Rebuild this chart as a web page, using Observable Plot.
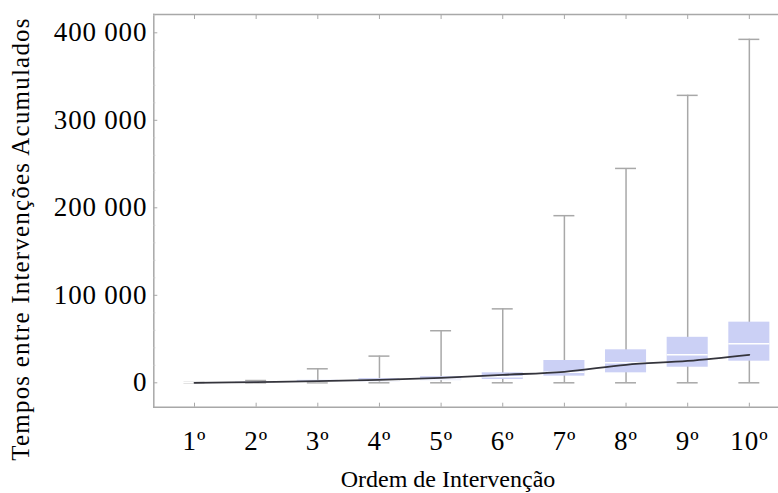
<!DOCTYPE html>
<html>
<head>
<meta charset="utf-8">
<script src="https://cdn.jsdelivr.net/npm/d3@7"></script>
<script src="https://cdn.jsdelivr.net/npm/@observablehq/plot@0.6"></script>
<style>
  body { margin: 0; background: #fff; }
  #chart svg { font-family: "Liberation Serif", "Times New Roman", serif; }
</style>
</head>
<body>
<div id="chart"></div>
<script>
// Ordem de intervenção (1º … 10º)
const orders = [1, 2, 3, 4, 5, 6, 7, 8, 9, 10];
const orderLabels = ["1º", "2º", "3º", "4º", "5º", "6º", "7º", "8º", "9º", "10º"];

// Estatísticas dos tempos acumulados entre intervenções
const minimum = [0, 0, 0, 0, 0, 0, 0, 0, 0, 0];
const quartile1 = [0, 300, 700, 1200, 2500, 3800, 7600, 11400, 17800, 24700];
const median = [0, 800, 1500, 2500, 4300, 7000, 12000, 23000, 32000, 44700];
const quartile3 = [0, 1500, 2800, 4800, 7000, 11400, 25500, 37700, 52000, 69300];
const maximum = [300, 2600, 16000, 30500, 59500, 84500, 191000, 245000, 328500, 392500];
const mean = [0, 800, 1800, 3400, 5700, 9100, 12600, 20600, 25000, 32000];

// Marcas do eixo vertical
const majorTicks = [0, 100000, 200000, 300000, 400000];
const minorTicks = [20000, 40000, 60000, 80000, 120000, 140000, 160000, 180000,
  220000, 240000, 260000, 280000, 320000, 340000, 360000, 380000, 420000];

const rows = orders.map((o, i) => ({
  order: o, min: minimum[i], q1: quartile1[i], med: median[i],
  q3: quartile3[i], max: maximum[i], mean: mean[i]
}));

const grey = "#a8a8a8";
const boxHalf = 0.333;
const capHalf = 0.17;
const fmt = d => d3.format(",")(d).replace(/,/g, " ");

const chart = Plot.plot({
  width: 778,
  height: 493,
  marginLeft: 153.3,
  marginRight: 0,
  marginTop: 14,
  marginBottom: 86.3,
  x: { domain: [0.3398, 10.473], label: null },
  y: { domain: [-27886, 420914], label: null },
  style: { fontFamily: "Liberation Serif, serif", fontSize: "27px", color: "#000", background: "#fff", overflow: "visible" },
  marks: [
    // bigodes e extremos
    Plot.ruleX(rows, { x: "order", y1: "min", y2: "max", stroke: grey, strokeWidth: 1.5 }),
    Plot.ruleY(rows, { y: "max", x1: d => d.order - capHalf, x2: d => d.order + capHalf, stroke: grey, strokeWidth: 1.5 }),
    Plot.ruleY(rows, { y: "min", x1: d => d.order - capHalf, x2: d => d.order + capHalf, stroke: grey, strokeWidth: 1.5 }),
    // caixas interquartis
    Plot.rectY(rows, { x1: d => d.order - boxHalf, x2: d => d.order + boxHalf, y1: "q1", y2: "q3", fill: "#cbd0f5" }),
    // medianas
    Plot.ruleY(rows, { y: "med", x1: d => d.order - boxHalf, x2: d => d.order + boxHalf, stroke: "#fff", strokeWidth: 1.5 }),
    // média
    Plot.line(rows, { x: "order", y: "mean", curve: "catmull-rom", stroke: "#34343c", strokeWidth: 1.8 }),
    // moldura
    Plot.frame({ anchor: "left", stroke: grey, strokeWidth: 1.5 }),
    Plot.frame({ anchor: "top", stroke: grey, strokeWidth: 1.5 }),
    Plot.frame({ anchor: "bottom", stroke: grey, strokeWidth: 1.5 }),
    // marcas internas dos eixos
    Plot.axisY({ ticks: majorTicks, tickSize: 4, dx: 4, text: null, stroke: grey, label: null }),
    Plot.axisY({ ticks: minorTicks, tickSize: 2, dx: 2, text: null, stroke: "#c8c8c8", label: null }),
    Plot.axisX({ ticks: orders, tickSize: 4, dy: -4, text: null, stroke: grey, label: null }),
    Plot.axisX({ anchor: "top", ticks: orders, tickSize: 4, dy: 4, text: null, stroke: grey, label: null }),
    // rótulos
    Plot.axisY({ ticks: majorTicks, tickSize: 0, tickPadding: 6.6, tickFormat: fmt, label: null, fill: "#000", fontSize: 27 }),
    Plot.axisX({ ticks: orders, tickSize: 0, tickPadding: 24, tickFormat: d => orderLabels[d - 1], label: null, fill: "#000", fontSize: 27 })
  ]
});

const svg = d3.select(chart);
svg.selectAll("g[aria-label='y-axis tick label'] text")
  .attr("letter-spacing", "0.8px");
svg.selectAll("g[aria-label='x-axis tick label'] text")
  .attr("letter-spacing", "1px");

svg.append("text")
  .attr("transform", "translate(29,239) rotate(-90)")
  .attr("text-anchor", "middle")
  .attr("font-size", 25)
  .attr("letter-spacing", "1.2px")
  .attr("fill", "#000")
  .text("Tempos entre Intervenções Acumulados");

svg.append("text")
  .attr("x", 448)
  .attr("y", 487)
  .attr("text-anchor", "middle")
  .attr("font-size", 24)
  .attr("fill", "#000")
  .text("Ordem de Intervenção");

document.getElementById("chart").append(chart);
</script>
</body>
</html>
